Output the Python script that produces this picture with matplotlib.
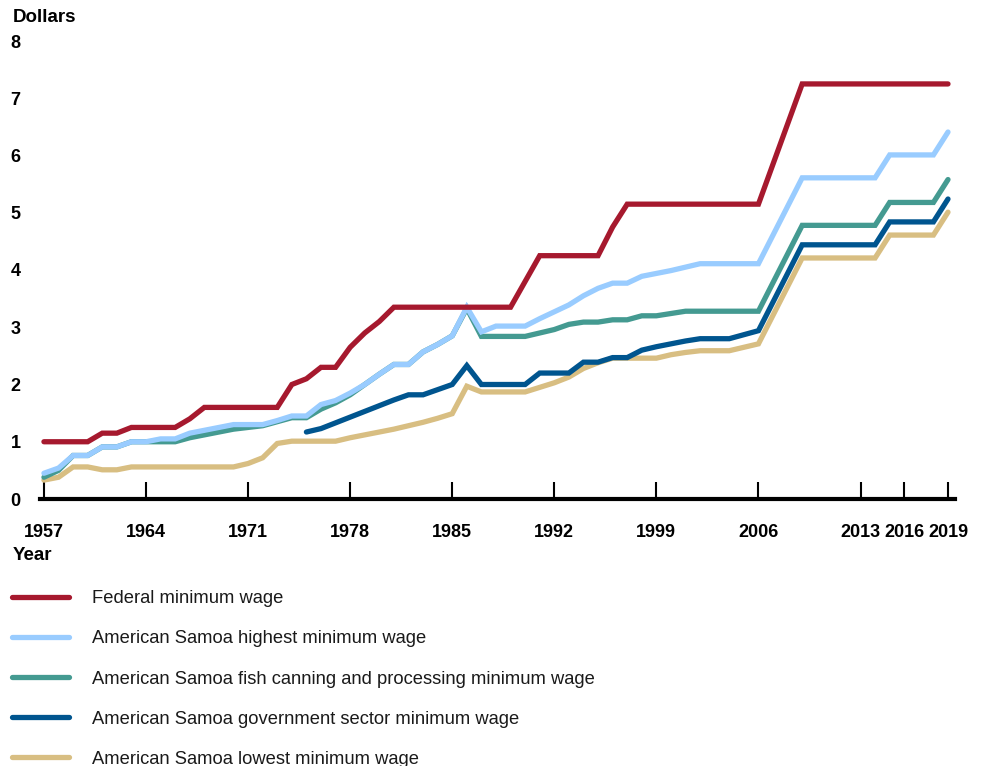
import matplotlib
matplotlib.use("Agg")
import matplotlib.pyplot as plt
import numpy as np

# ---------------------------------------------------------------------------
# データ (1957-2019, 単位: ドル)
# ---------------------------------------------------------------------------
years = list(range(1957, 2020))

federal = [
    1.00, 1.00, 1.00, 1.00, 1.15, 1.15, 1.25, 1.25, 1.25, 1.25,   # 1957-1966
    1.40, 1.60, 1.60, 1.60, 1.60, 1.60, 1.60, 2.00, 2.10, 2.30,   # 1967-1976
    2.30, 2.65, 2.90, 3.10, 3.35, 3.35, 3.35, 3.35, 3.35, 3.35,   # 1977-1986
    3.35, 3.35, 3.35, 3.80, 4.25, 4.25, 4.25, 4.25, 4.25, 4.75,   # 1987-1996
    5.15, 5.15, 5.15, 5.15, 5.15, 5.15, 5.15, 5.15, 5.15, 5.15,   # 1997-2006
    5.85, 6.55, 7.25, 7.25, 7.25, 7.25, 7.25, 7.25, 7.25, 7.25,   # 2007-2016
    7.25, 7.25, 7.25,                                             # 2017-2019
]

as_highest = [
    0.45, 0.54, 0.76, 0.76, 0.91, 0.91, 1.00, 1.00, 1.05, 1.05,
    1.15, 1.20, 1.25, 1.30, 1.30, 1.30, 1.37, 1.45, 1.45, 1.65,
    1.72, 1.85, 2.00, 2.18, 2.35, 2.35, 2.57, 2.70, 2.85, 3.35,
    2.92, 3.02, 3.02, 3.02, 3.15, 3.27, 3.39, 3.55, 3.68, 3.77,
    3.77, 3.89, 3.94, 3.99, 4.05, 4.11, 4.11, 4.11, 4.11, 4.11,
    4.61, 5.11, 5.61, 5.61, 5.61, 5.61, 5.61, 5.61, 6.01, 6.01,
    6.01, 6.01, 6.41,
]

as_fish = [
    0.38, 0.50, 0.76, 0.76, 0.91, 0.91, 1.00, 1.00, 1.00, 1.00,
    1.07, 1.12, 1.17, 1.22, 1.25, 1.28, 1.35, 1.42, 1.42, 1.57,
    1.68, 1.82, 2.00, 2.18, 2.35, 2.35, 2.57, 2.70, 2.85, 3.33,
    2.84, 2.84, 2.84, 2.84, 2.90, 2.96, 3.05, 3.09, 3.09, 3.13,
    3.13, 3.20, 3.20, 3.24, 3.28, 3.28, 3.28, 3.28, 3.28, 3.28,
    3.78, 4.28, 4.78, 4.78, 4.78, 4.78, 4.78, 4.78, 5.18, 5.18,
    5.18, 5.18, 5.58,
]

as_government = [
    np.nan, np.nan, np.nan, np.nan, np.nan, np.nan, np.nan, np.nan, np.nan, np.nan,
    np.nan, np.nan, np.nan, np.nan, np.nan, np.nan, np.nan, np.nan, 1.17, 1.23,
    1.33, 1.43, 1.53, 1.63, 1.73, 1.82, 1.82, 1.91, 2.00, 2.33,
    2.00, 2.00, 2.00, 2.00, 2.20, 2.20, 2.20, 2.39, 2.39, 2.47,
    2.47, 2.60, 2.66, 2.71, 2.76, 2.80, 2.80, 2.80, 2.87, 2.94,
    3.44, 3.94, 4.44, 4.44, 4.44, 4.44, 4.44, 4.44, 4.84, 4.84,
    4.84, 4.84, 5.24,
]

as_lowest = [
    0.33, 0.38, 0.56, 0.56, 0.51, 0.51, 0.56, 0.56, 0.56, 0.56,
    0.56, 0.56, 0.56, 0.56, 0.62, 0.72, 0.97, 1.01, 1.01, 1.01,
    1.01, 1.07, 1.12, 1.17, 1.22, 1.28, 1.34, 1.41, 1.49, 1.97,
    1.87, 1.87, 1.87, 1.87, 1.95, 2.03, 2.13, 2.28, 2.38, 2.46,
    2.46, 2.46, 2.46, 2.52, 2.56, 2.59, 2.59, 2.59, 2.65, 2.71,
    3.21, 3.71, 4.21, 4.21, 4.21, 4.21, 4.21, 4.21, 4.61, 4.61,
    4.61, 4.61, 5.01,
]

labels = [
    "Federal minimum wage",
    "American Samoa highest minimum wage",
    "American Samoa fish canning and processing minimum wage",
    "American Samoa government sector minimum wage",
    "American Samoa lowest minimum wage",
]
x_ticks = [1957, 1964, 1971, 1978, 1985, 1992, 1999, 2006, 2013, 2016, 2019]
y_ticks = [0, 1, 2, 3, 4, 5, 6, 7, 8]

colors = ["#A6192E", "#99CCFF", "#449A91", "#00558F", "#D8BE82"]
zorders = [6, 5, 4, 3, 2]

# ---------------------------------------------------------------------------
# Figure
# ---------------------------------------------------------------------------
plt.rcParams["font.family"] = ["Liberation Sans", "DejaVu Sans"]

fig = plt.figure(figsize=(9.85, 7.66), dpi=100)
W, H = 985, 766
ax = fig.add_axes([40 / W, (H - 499) / H, 915 / W, (499 - 41) / H])

series = [federal, as_highest, as_fish, as_government, as_lowest]
handles = []
for vals, c, z, lab in zip(series, colors, zorders, labels):
    (ln,) = ax.plot(years, vals, color=c, lw=3.8, zorder=z, label=lab,
                    solid_capstyle="round", solid_joinstyle="miter", clip_on=False)
    handles.append(ln)

ax.set_xlim(1956.73, 2019.48)
ax.set_ylim(0, 8)

for s in ["top", "right", "left"]:
    ax.spines[s].set_visible(False)
ax.spines["bottom"].set_linewidth(3.0)
ax.spines["bottom"].set_zorder(1)

ax.set_xticks(x_ticks)
ax.set_xticklabels([str(y) for y in x_ticks], fontsize=13, fontweight="bold")
ax.tick_params(axis="x", direction="in", length=12, width=1.5, pad=18)
ax.set_yticks(y_ticks)
ax.set_yticklabels([str(v) for v in y_ticks], fontsize=13, fontweight="bold")
ax.tick_params(axis="y", length=0, pad=14)

fig.text(13 / W, 1 - 17 / H, "Dollars", fontsize=13.5, fontweight="bold", va="center", ha="left")
fig.text(13 / W, 1 - 555 / H, "Year", fontsize=13.5, fontweight="bold", va="center", ha="left")

# 凡例は図の下端で一部切れる (元図と同じ)
leg = fig.legend(handles=handles, labels=labels, loc="upper left",
                 bbox_to_anchor=(5 / W, 1 - 583 / H), frameon=False,
                 fontsize=13.2, handlelength=3.1, handletextpad=1.25,
                 labelspacing=1.26, borderaxespad=0)
for t in leg.get_texts():
    t.set_color("#1a1a1a")

fig.savefig("out.png", dpi=100)
